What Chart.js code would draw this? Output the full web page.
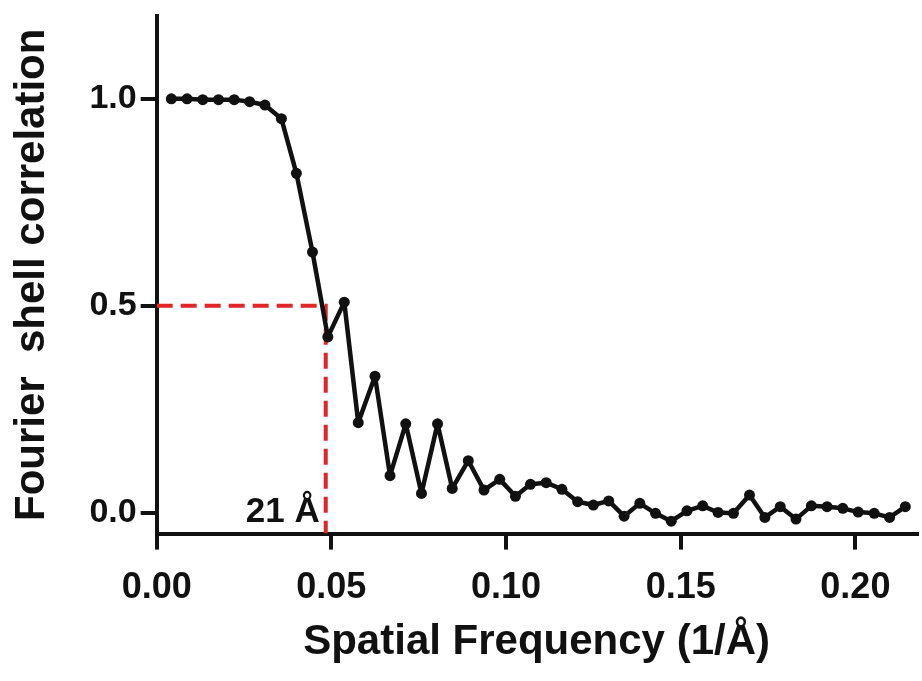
<!DOCTYPE html>
<html>
<head>
<meta charset="utf-8">
<script src="https://cdn.jsdelivr.net/npm/chart.js@4.4.1/dist/chart.umd.min.js"></script>
<style>
  html, body { margin: 0; padding: 0; background: #ffffff; }
  #wrap { width: 922px; height: 681px; }
</style>
</head>
<body>
<div id="wrap"><canvas id="c" width="922" height="681"></canvas></div>
<script>
// ---- data ----
const spatialFrequency = [
  0.0042, 0.0087, 0.0132, 0.0177, 0.0222, 0.0266, 0.0310, 0.0357, 0.0400, 0.0446,
  0.0490, 0.0537, 0.0577, 0.0625, 0.0668, 0.0713, 0.0758, 0.0804, 0.0846, 0.0892,
  0.0937, 0.0982, 0.1027, 0.1070, 0.1115, 0.1160, 0.1205, 0.1250, 0.1294, 0.1338,
  0.1383, 0.1428, 0.1473, 0.1518, 0.1563, 0.1607, 0.1651, 0.1697, 0.1741, 0.1785,
  0.1830, 0.1874, 0.1919, 0.1964, 0.2008, 0.2054, 0.2098, 0.2143
];
const fscValues = [
  1.000, 1.000, 0.998, 0.998, 0.998, 0.993, 0.985, 0.952, 0.820, 0.630,
  0.425, 0.509, 0.218, 0.330, 0.090, 0.215, 0.047, 0.215, 0.059, 0.126,
  0.055, 0.081, 0.040, 0.069, 0.073, 0.057, 0.027, 0.019, 0.029, -0.008,
  0.023, -0.001, -0.020, 0.005, 0.017, 0.001, -0.001, 0.043, -0.011, 0.015,
  -0.015, 0.017, 0.015, 0.011, 0.002, -0.001, -0.011, 0.015
];
const xTickValues = [0, 0.05, 0.10, 0.15, 0.20];
const yTickValues = [0.0, 0.5, 1.0];
const fscThreshold = 0.5;
const resolutionFreq = 0.0484;
const resolutionLabel = '21 Å';
const xTitle = 'Spatial Frequency (1/Å)';
const yTitle = 'Fourier  shell correlation';
const xRange = [0, 0.2175];
const yRange = [-0.05, 1.2];

// ---- build ----
const curve = spatialFrequency.map((x, i) => ({ x: x, y: fscValues[i] }));
const guide = [
  { x: xRange[0], y: fscThreshold },
  { x: resolutionFreq, y: fscThreshold },
  { x: resolutionFreq, y: yRange[0] }
];
const FONT = '"Liberation Sans", Arial, Helvetica, sans-serif';
const INK = '#111111';

const labelPlugin = {
  id: 'resLabel',
  afterDatasetsDraw(chart) {
    const { ctx, scales } = chart;
    const px = scales.x.getPixelForValue(resolutionFreq);
    const py = scales.y.getPixelForValue(0);
    ctx.save();
    ctx.font = 'bold 35px ' + FONT;
    ctx.fillStyle = INK;
    ctx.textAlign = 'right';
    ctx.textBaseline = 'alphabetic';
    ctx.fillText(resolutionLabel, px - 6, py + 9);
    ctx.restore();
  }
};

new Chart(document.getElementById('c'), {
  type: 'scatter',
  data: {
    datasets: [
      {
        data: curve,
        showLine: true,
        borderColor: INK,
        backgroundColor: INK,
        borderWidth: 4.5,
        borderJoinStyle: 'round',
        borderCapStyle: 'round',
        pointRadius: 5.5,
        pointBorderWidth: 0,
        pointBackgroundColor: INK,
        tension: 0,
        order: 0
      },
      {
        data: guide,
        showLine: true,
        borderColor: '#e02626',
        borderWidth: 4,
        borderDash: [16, 8],
        pointRadius: 0,
        tension: 0,
        order: 1
      }
    ]
  },
  plugins: [labelPlugin],
  options: {
    responsive: false,
    devicePixelRatio: 1,
    animation: false,
    layout: { padding: { left: 0, right: 0, top: 16, bottom: 13 } },
    plugins: { legend: { display: false }, tooltip: { enabled: false } },
    scales: {
      x: {
        type: 'linear',
        min: xRange[0],
        max: xRange[1],
        afterBuildTicks: (s) => { s.ticks = xTickValues.map(v => ({ value: v })); },
        ticks: {
          color: INK,
          font: { family: FONT, size: 36, weight: 'bold', lineHeight: 1.0 },
          padding: 20,
          maxRotation: 0,
          autoSkip: false,
          callback: (v) => Number(v).toFixed(2)
        },
        grid: { drawOnChartArea: false, drawTicks: true, tickLength: 16, color: INK, lineWidth: 4 },
        border: { display: true, color: INK, width: 4 },
        title: {
          display: true,
          text: xTitle,
          color: INK,
          font: { family: FONT, size: 42, weight: 'bold' },
          padding: { top: -8, bottom: 0 }
        }
      },
      y: {
        type: 'linear',
        min: yRange[0],
        max: yRange[1],
        afterBuildTicks: (s) => { s.ticks = yTickValues.map(v => ({ value: v })); },
        ticks: {
          color: INK,
          font: { family: FONT, size: 34, weight: 'bold', lineHeight: 0.6 },
          padding: 4,
          autoSkip: false,
          callback: (v) => Number(v).toFixed(1)
        },
        grid: { drawOnChartArea: false, drawTicks: true, tickLength: 16, color: INK, lineWidth: 4 },
        border: { display: true, color: INK, width: 4 },
        title: {
          display: true,
          text: yTitle,
          color: INK,
          font: { family: FONT, size: 42, weight: 'bold' },
          padding: { top: 7, bottom: 28 }
        }
      }
    }
  }
});
</script>
</body>
</html>
